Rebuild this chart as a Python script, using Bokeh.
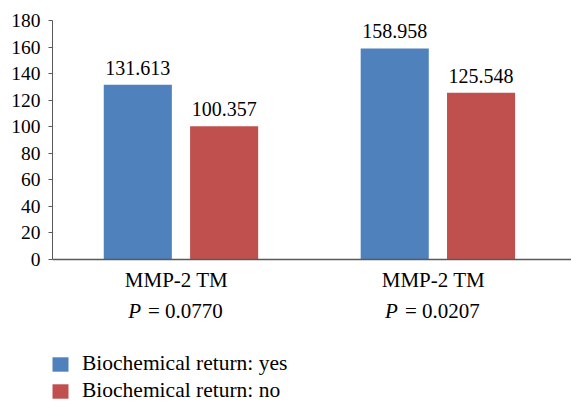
from bokeh.plotting import figure
from bokeh.layouts import column
from bokeh.models import (ColumnDataSource, Range1d, FixedTicker, LabelSet,
                          Legend, LegendItem)
from bokeh.core.properties import value
from bokeh.embed import file_html
from bokeh.resources import INLINE

# ---- data ----
groups = ["MMP-2 TM", "MMP-2 TM"]
p_values = ["0.0770", "0.0207"]
series = ["Biochemical return: yes", "Biochemical return: no"]
yes_values = [131.613, 158.958]
no_values = [100.357, 125.548]
y_ticks = [0, 20, 40, 60, 80, 100, 120, 140, 160, 180]
colors = ["#4F81BD", "#C0504D"]

# ---- style ----
FONT = "Liberation Serif"
AXIS_COLOR = "#595959"
OFF = 0.168
BW = 0.265
LBL_SHIFT = 0.0175
H_MAIN = 296
H_BOT = 105
P_BASELINE = 14.0   # position of the P-value row in the lower strip

centers = [i + 0.5 for i in range(len(groups))]

p = figure(width=571, height=H_MAIN, output_backend="svg", toolbar_location=None,
           x_range=Range1d(0, 2.02), y_range=Range1d(0, 180),
           min_border_left=52, min_border_right=0, min_border_top=20,
           min_border_bottom=H_MAIN - 259)
p.outline_line_color = None
p.grid.grid_line_color = None
p.background_fill_color = "white"
p.border_fill_color = "white"

src_yes = ColumnDataSource(dict(x=[c - OFF for c in centers], top=yes_values,
                                label=[f"{v:.3f}" for v in yes_values]))
src_no = ColumnDataSource(dict(x=[c + OFF for c in centers], top=no_values,
                               label=[f"{v:.3f}" for v in no_values]))

p.vbar(x="x", top="top", width=BW, source=src_yes,
       fill_color=colors[0], line_color=None)
p.vbar(x="x", top="top", width=BW, source=src_no,
       fill_color=colors[1], line_color=None)

for src in (src_yes, src_no):
    p.add_layout(LabelSet(x="x", y="top", text="label", source=src,
                          text_align="center", text_baseline="alphabetic",
                          y_offset=10, text_font=value(FONT),
                          text_font_size="20px", text_color="black"))

# y axis
yax = p.yaxis[0]
yax.ticker = FixedTicker(ticks=y_ticks)
yax.major_tick_out = 4
yax.major_tick_in = 0
yax.minor_tick_out = 0
yax.minor_tick_in = 0
yax.axis_line_color = AXIS_COLOR
yax.major_tick_line_color = AXIS_COLOR
yax.major_label_text_font = FONT
yax.major_label_text_font_size = "19.5px"
yax.major_label_text_color = "black"
yax.major_label_standoff = 8

# x axis: category names
cat_ticks = [c - LBL_SHIFT for c in centers]
xax = p.xaxis[0]
xax.ticker = FixedTicker(ticks=cat_ticks)
xax.major_label_overrides = {t: g for t, g in zip(cat_ticks, groups)}
xax.major_tick_out = 0
xax.major_tick_in = 0
xax.minor_tick_out = 0
xax.minor_tick_in = 0
xax.axis_line_color = AXIS_COLOR
xax.axis_line_width = 1.5
xax.major_label_text_font = FONT
xax.major_label_text_font_size = "21px"
xax.major_label_text_color = "black"
xax.major_label_standoff = 8

# ---- lower strip: P values (italic P) and the legend ----
lg = figure(width=571, height=H_BOT, output_backend="svg", toolbar_location=None,
            title_location=None,
            x_range=p.x_range, y_range=Range1d(H_BOT, 0),
            x_axis_type=None, y_axis_type=None,
            min_border_left=0, min_border_right=0, min_border_top=0,
            min_border_bottom=0)
lg.outline_line_color = None
lg.grid.grid_line_color = None
lg.background_fill_color = "white"
lg.border_fill_color = "white"

p_src = ColumnDataSource(dict(x=centers, y=[P_BASELINE] * len(centers),
                              p=["P"] * len(centers),
                              rest=["= " + pv for pv in p_values]))
lg.text(x="x", y="y", text="p", source=p_src, x_offset=-40,
        text_align="right", text_baseline="alphabetic",
        text_font=value(FONT), text_font_style="italic",
        text_font_size="21px", text_color="black")
lg.text(x="x", y="y", text="rest", source=p_src, x_offset=-33,
        text_align="left", text_baseline="alphabetic",
        text_font=value(FONT), text_font_size="21px", text_color="black")

# legend keys share the chart's data, drawn with zero height
key_yes = lg.vbar(x="x", top="top", bottom="top", width=BW, source=src_yes,
                  fill_color=colors[0], line_color=None)
key_no = lg.vbar(x="x", top="top", bottom="top", width=BW, source=src_no,
                 fill_color=colors[1], line_color=None)

legend = Legend(items=[LegendItem(label=series[0], renderers=[key_yes]),
                       LegendItem(label=series[1], renderers=[key_no])],
                location=(-2, -2), orientation="vertical",
                glyph_width=20, glyph_height=18, label_height=18,
                label_standoff=12, spacing=2, padding=0, margin=0,
                border_line_color=None, background_fill_alpha=0,
                label_text_font=FONT, label_text_font_size="21.5px",
                label_text_color="black")
lg.add_layout(legend)

open("out.html", "w").write(file_html(column(p, lg, spacing=0), INLINE))
